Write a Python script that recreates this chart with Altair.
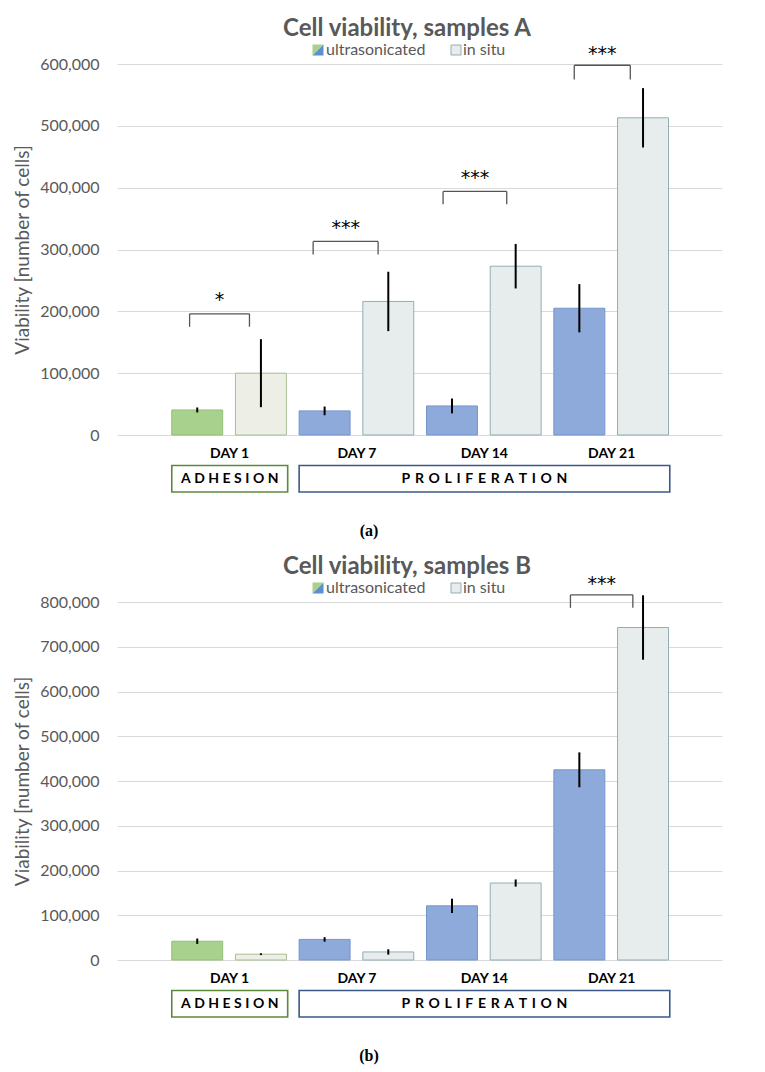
import json
import pandas as pd
import altair as alt

# ---------------- data ----------------
days = ["DAY 1", "DAY 7", "DAY 14", "DAY 21"]
series = ["ultrasonicated", "in situ"]
phases = ["ADHESION", "PROLIFERATION"]
phase_first = [0, 1]   # index of first day in phase
phase_last = [0, 3]    # index of last day in phase

# samples A
a_ultra = [40500, 39000, 47000, 205000]
a_ultra_err = [4000, 7000, 12000, 39000]
a_situ = [100000, 216000, 273000, 513000]
a_situ_err = [55000, 48000, 36000, 48000]
a_sig_day = [0, 1, 2, 3]
a_sig_label = ["*", "***", "***", "***"]
a_sig_top = [196000, 313000, 394000, 598000]
a_sig_leg = [175000, 292000, 373000, 575000]
a_sig_star = [219000, 334000, 415000, 616000]
a_sig_left = [-0.31, -0.34, -0.32, -0.29]
a_sig_right = [0.16, 0.17, 0.18, 0.15]

# samples B
b_ultra = [42000, 46000, 121000, 425000]
b_ultra_err = [6000, 5000, 16000, 39000]
b_situ = [13000, 18000, 172000, 743000]
b_situ_err = [2000, 6000, 8000, 72000]
b_sig_day = [3]
b_sig_label = ["***"]
b_sig_top = [816000]
b_sig_leg = [787000]
b_sig_star = [840000]
b_sig_left = [-0.32]
b_sig_right = [0.17]

# ---------------- styles ----------------
FONT = "Lato"
GRAY = "#595959"
GREEN = "#a9d18e"
GREEN_S = "#93bf76"
BLUE = "#8eaadb"
BLUE_S = "#7595cc"
SITU_FILL = "#e7ecec"
SITU_S = "#93adb5"
SITU_FILL_G = "#edefe6"
SITU_S_G = "#a8bf94"
PHASE_COL = ["#5b8a3c", "#3b5a8a"]

XDOM = [-0.88, 3.87]
W = 605
OFF = 0.25
HALF = 0.2

label_expr = json.dumps(days) + "[datum.value]"


def spaced(p):
    sep = "\u2005" if len(p) < 10 else "\u2004"
    return sep.join(p)


def build_panel(ultra, ultra_err, situ, situ_err, sig_day, sig_label, sig_top,
                sig_leg, sig_star, sig_left, sig_right, ymax, H, title, caption):
    rows = []
    for i, d in enumerate(days):
        for s, v, e in ((series[0], ultra[i], ultra_err[i]), (series[1], situ[i], situ_err[i])):
            c = i + (-OFF if s == series[0] else OFF)
            if s == series[0]:
                fill, stroke = (GREEN, GREEN_S) if i == 0 else (BLUE, BLUE_S)
            else:
                fill, stroke = (SITU_FILL_G, SITU_S_G) if i == 0 else (SITU_FILL, SITU_S)
            rows.append(dict(day=d, series=s, value=v, base=0, lo=v - e, hi=v + e,
                             c=c, x0=c - HALF, x1=c + HALF, fill=fill, stroke=stroke))
    bars = pd.DataFrame(rows)

    seg = []
    for k, di in enumerate(sig_day):
        xl, xr = di + sig_left[k], di + sig_right[k]
        seg.append(dict(xa=xl, xb=xl, ya=sig_leg[k], yb=sig_top[k]))
        seg.append(dict(xa=xl, xb=xr, ya=sig_top[k], yb=sig_top[k]))
        seg.append(dict(xa=xr, xb=xr, ya=sig_top[k], yb=sig_leg[k]))
    segs = pd.DataFrame(seg)
    stars = pd.DataFrame(dict(
        xm=[di + (sig_left[k] + sig_right[k]) / 2 for k, di in enumerate(sig_day)],
        y=sig_star, label=sig_label))

    ph = pd.DataFrame(dict(
        phase=phases,
        x0=[f - 0.45 for f in phase_first],
        x1=[l + 0.46 for l in phase_last],
        xm=[(f - 0.45 + l + 0.46) / 2 for f, l in zip(phase_first, phase_last)],
        col=PHASE_COL,
        spaced=[spaced(p) for p in phases],
    ))

    xs = alt.Scale(domain=XDOM, nice=False, zero=False)
    xaxis = alt.Axis(values=[0, 1, 2, 3], labelExpr=label_expr, grid=False, domain=False,
                     ticks=False, tickSize=0, labelPadding=11, labelFont=FONT,
                     labelFontSize=14, labelFontWeight="bold", labelColor="#000000",
                     title=None)
    ys = alt.Scale(domain=[0, ymax], nice=False)
    yaxis = alt.Axis(values=list(range(0, ymax + 1, 100000)), format=",d", grid=True,
                     gridColor="#d9d9d9", gridWidth=1, domain=False, ticks=False,
                     tickSize=0, labelPadding=18, labelFont=FONT, labelFontSize=16,
                     labelColor=GRAY, title="Viability [number of cells]",
                     titleFont=FONT, titleFontSize=19, titleFontWeight="normal",
                     titleColor=GRAY, titlePadding=7)

    def X(f):
        return alt.X(f, type="quantitative", scale=xs, axis=xaxis)

    def Y(f):
        return alt.Y(f, type="quantitative", scale=ys, axis=yaxis)

    bar = alt.Chart(bars).mark_bar(strokeWidth=1).encode(
        x=X("x0"), x2="x1", y=Y("value"), y2="base",
        fill=alt.Fill("fill:N", scale=None), stroke=alt.Stroke("stroke:N", scale=None))
    err = alt.Chart(bars).mark_rule(color="#000000", strokeWidth=2).encode(
        x=X("c"), y=Y("lo"), y2="hi")
    br = alt.Chart(segs).mark_rule(color="#555555", strokeWidth=1.3).encode(
        x=X("xa"), x2="xb", y=Y("ya"), y2="yb")
    st = alt.Chart(stars).mark_text(font="DejaVu Sans", fontSize=19, color="#000000",
                                    baseline="middle").encode(
        x=X("xm"), y=Y("y"), text="label:N")
    box = alt.Chart(ph).mark_rect(fill="white", strokeWidth=1.6).encode(
        x=X("x0"), x2="x1", y=alt.value(H + 30.5), y2=alt.value(H + 57),
        stroke=alt.Stroke("col:N", scale=None))
    boxt = alt.Chart(ph).mark_text(font=FONT, fontSize=14, fontWeight="bold",
                                   color="#000000", baseline="middle").encode(
        x=X("xm"), y=alt.value(H + 44), text="spaced:N")

    one = pd.DataFrame(dict(title=[title], caption=[caption], s0=[series[0]], s1=[series[1]]))
    ttl = alt.Chart(one).mark_text(font=FONT, fontSize=24, fontWeight="bold", color=GRAY,
                                   baseline="middle").encode(
        x=alt.value(290), y=alt.value(-35), text="title:N")
    cap = alt.Chart(one).mark_text(font="Liberation Serif", fontSize=16, fontWeight="bold",
                                   color="#000000", baseline="middle").encode(
        x=alt.value(252), y=alt.value(H + 96), text="caption:N")
    sw_g = alt.Chart(one).mark_point(shape="M-1,-1L1,-1L-1,1Z", filled=True, size=121,
                                     fill=GREEN, strokeWidth=0, opacity=1).encode(
        x=alt.value(201), y=alt.value(-14))
    sw_b = alt.Chart(one).mark_point(shape="M1,-1L1,1L-1,1Z", filled=True, size=121,
                                     fill="#5b8fd0", strokeWidth=0, opacity=1).encode(
        x=alt.value(201), y=alt.value(-14))
    sw_s = alt.Chart(one).mark_point(shape="square", filled=True, size=100,
                                     fill=SITU_FILL, stroke=SITU_S, strokeWidth=1,
                                     opacity=1).encode(
        x=alt.value(339), y=alt.value(-14))
    lt0 = alt.Chart(one).mark_text(font=FONT, fontSize=16, color=GRAY, align="left",
                                   baseline="middle").encode(
        x=alt.value(209), y=alt.value(-14), text="s0:N")
    lt1 = alt.Chart(one).mark_text(font=FONT, fontSize=16, color=GRAY, align="left",
                                   baseline="middle").encode(
        x=alt.value(346), y=alt.value(-14), text="s1:N")

    return alt.layer(bar, err, br, st, box, boxt, ttl, cap, sw_g, sw_b, sw_s, lt0, lt1
                     ).properties(width=W, height=H)


top = build_panel(a_ultra, a_ultra_err, a_situ, a_situ_err, a_sig_day, a_sig_label,
                  a_sig_top, a_sig_leg, a_sig_star, a_sig_left, a_sig_right,
                  600000, 371, "Cell viability, samples A", "(a)")
bottom = build_panel(b_ultra, b_ultra_err, b_situ, b_situ_err, b_sig_day, b_sig_label,
                     b_sig_top, b_sig_leg, b_sig_star, b_sig_left, b_sig_right,
                     800000, 358, "Cell viability, samples B", "(b)")

chart = alt.vconcat(top, bottom, spacing=167, bounds="flush").properties(
    padding={"left": 5, "top": 9, "right": 5, "bottom": 5}
).configure_view(stroke=None)

chart.save("out.html", embed_options={"renderer": "svg", "actions": False})
